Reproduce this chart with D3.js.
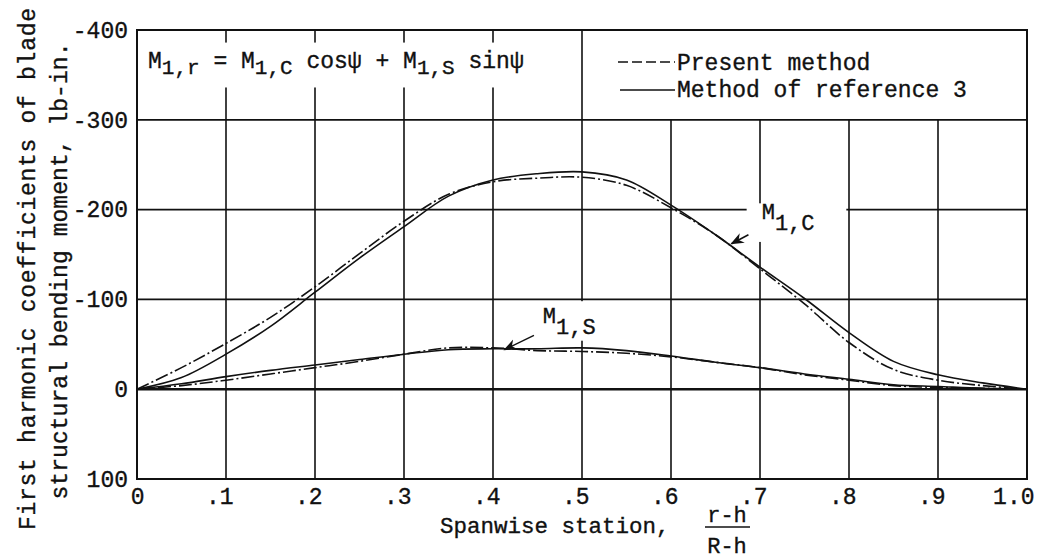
<!DOCTYPE html>
<html>
<head>
<meta charset="utf-8">
<script src="https://cdn.jsdelivr.net/npm/d3@7"></script>
<style>
  html, body { margin: 0; padding: 0; background: #fff; }
  svg { display: block; }
  text { font-family: "Liberation Mono", "DejaVu Sans Mono", monospace; fill: #111; stroke: #111; stroke-width: 0.35px; }
</style>
</head>
<body>
<svg id="chart" width="1059" height="560"></svg>
<script>
// ---------------- data ----------------
const stations = [0, .05, .1, .15, .2, .25, .3, .35, .4, .45, .5, .55, .6, .65, .7, .75, .8, .85, .9, .95, 1.0];
// M1,C  (cosine coefficient), lb-in.
const mcReference = [0, -13, -39, -70, -108, -146, -181, -215, -233, -240, -242, -233, -205, -172, -136, -101, -63, -31, -16, -7, 0];
const mcPresent   = [0, -24, -51, -80, -114, -151, -187, -217, -231, -235, -236, -227, -202, -172, -134, -95, -52, -22, -10, -4, 0];
// M1,S  (sine coefficient), lb-in.
const msReference = [0, -6, -14, -21, -27, -33, -39, -44, -45, -45, -46, -43, -37, -30, -24, -17, -11, -5, -3, -1, 0];
const msPresent   = [0, -4, -10, -17, -24, -31, -39, -46, -46, -43, -42, -40, -36, -30, -24, -16, -10, -4, -2, -1, 0];

const yTicks = [-400, -300, -200, -100, 0, 100];
const xTicks = [0, .1, .2, .3, .4, .5, .6, .7, .8, .9, 1.0];
const xTickLabels = ["0", ".1", ".2", ".3", ".4", ".5", ".6", ".7", ".8", ".9", "1.0"];
const legendLabels = ["Present method", "Method of reference 3"];
const yTitleLines = ["First harmonic coefficients of blade", "structural bending moment, lb-in."];
// annotation anchors in data units
const mcArrow = {x1: 0.687, y1: -172, x2: 0.668, y2: -162, lx: 0.702, ly: -189};
const msArrow = {x1: 0.446, y1: -60, x2: 0.413, y2: -44, lx: 0.456, ly: -74};

// ---------------- layout ----------------
const svg = d3.select("#chart");
const M = {left: 137, top: 30, right: 32, bottom: 81};
const W = 1059 - M.left - M.right;
const H = 560 - M.top - M.bottom;

const x = d3.scaleLinear().domain([0, 1]).range([M.left, M.left + W]);
const y = d3.scaleLinear().domain([-400, 100]).range([M.top, M.top + H]);

const ink = "#111";
const g = svg.append("g");

// grid: horizontal
g.selectAll("line.hgrid").data(yTicks).join("line")
  .attr("x1", x(0)).attr("x2", x(1))
  .attr("y1", d => y(d)).attr("y2", d => y(d))
  .attr("stroke", ink).attr("stroke-width", d => d === 0 ? 2.4 : 1.7);

// grid: vertical (legend box region above -300 has no lines right of .5)
g.selectAll("line.vgrid").data(xTicks).join("line")
  .attr("x1", d => x(d)).attr("x2", d => x(d))
  .attr("y1", d => (d > 0.5 && d < 1) ? y(-300) : y(-400))
  .attr("y2", y(100))
  .attr("stroke", ink).attr("stroke-width", d => (d === 0 || d === 1) ? 2 : 1.6);

// white gaps behind formula and labels
g.append("rect").attr("x", x(0) + 3).attr("y", y(-386)).attr("width", x(0.5) - x(0) - 6)
  .attr("height", y(-336) - y(-386)).attr("fill", "#fff");
g.append("rect").attr("x", x(0.685)).attr("y", y(-207)).attr("width", x(0.797) - x(0.685))
  .attr("height", y(-164) - y(-207)).attr("fill", "#fff");
g.append("rect").attr("x", x(0.455)).attr("y", y(-98)).attr("width", x(0.53) - x(0.455))
  .attr("height", y(-54) - y(-98)).attr("fill", "#fff");

// outer frame
g.append("rect").attr("x", x(0)).attr("y", y(-400)).attr("width", W).attr("height", H)
  .attr("fill", "none").attr("stroke", ink).attr("stroke-width", 2);

// ---------------- curves ----------------
const line = d3.line().x(d => x(d[0])).y(d => y(d[1])).curve(d3.curveCatmullRom.alpha(0.5));
const dashPattern = "13,3,2,3";
const series = [
  {v: mcReference, dash: null},
  {v: mcPresent, dash: dashPattern},
  {v: msReference, dash: null},
  {v: msPresent, dash: dashPattern}
];
g.selectAll("path.curve").data(series).join("path")
  .attr("d", s => line(stations.map((st, i) => [st, s.v[i]])))
  .attr("fill", "none").attr("stroke", ink).attr("stroke-width", 1.6)
  .attr("stroke-dasharray", s => s.dash);

// ---------------- axes labels ----------------
const yAxis = d3.axisLeft(y).tickValues(yTicks).tickSize(0).tickPadding(9)
  .tickFormat(d => String(d));
const ya = svg.append("g").attr("transform", `translate(${M.left},0)`).call(yAxis);
ya.select(".domain").remove();
ya.selectAll("text").attr("font-size", 23).attr("fill", ink)
  .style("font-family", '"Liberation Mono", monospace');

const xAxis = d3.axisBottom(x).tickValues(xTicks).tickSize(0)
  .tickFormat((d, i) => xTickLabels[i]);
const xa = svg.append("g").attr("transform", `translate(0,${M.top + H})`).call(xAxis);
xa.select(".domain").remove();
xa.selectAll("text").attr("font-size", 23).attr("fill", ink)
  .attr("text-anchor", "end").attr("dx", 7).attr("y", 3).attr("dy", "0.95em")
  .style("font-family", '"Liberation Mono", monospace');

// x title with fraction
const xt = svg.append("g");
xt.append("text").attr("x", 440).attr("y", 533).attr("font-size", 22.5)
  .text("Spanwise station,");
xt.append("text").attr("x", 727).attr("y", 522).attr("font-size", 22)
  .attr("text-anchor", "middle").text("r-h");
xt.append("line").attr("x1", 705).attr("x2", 750).attr("y1", 527).attr("y2", 527)
  .attr("stroke", ink).attr("stroke-width", 1.3);
xt.append("text").attr("x", 727).attr("y", 553).attr("font-size", 22)
  .attr("text-anchor", "middle").text("R-h");

// y title (two rotated lines)
const yt = svg.append("g");
yt.selectAll("text").data(yTitleLines).join("text")
  .attr("transform", (d, i) => `translate(${i === 0 ? 35 : 67},${i === 0 ? 269 : 271}) rotate(-90)`)
  .attr("text-anchor", "middle").attr("font-size", 23)
  .attr("textLength", (d, i) => i === 0 ? 522 : 457).attr("lengthAdjust", "spacing")
  .text(d => d);

// formula
const f = svg.append("text").attr("x", 148).attr("y", 68).attr("font-size", 23);
const sub = (t) => f.append("tspan").attr("dy", 6).attr("font-size", 21).text(t);
const main = (t) => f.append("tspan").attr("dy", -6).attr("font-size", 23).text(t);
f.append("tspan").text("M");
sub("1,r"); main(" = M");
sub("1,C"); main(" cos\u03C8 + M");
sub("1,S"); main(" sin\u03C8");

// legend
const lg = svg.append("g");
lg.append("line").attr("x1", 618).attr("x2", 675).attr("y1", 62).attr("y2", 62)
  .attr("stroke", ink).attr("stroke-width", 1.5).attr("stroke-dasharray", "10,4");
lg.append("line").attr("x1", 620).attr("x2", 675).attr("y1", 90).attr("y2", 90)
  .attr("stroke", ink).attr("stroke-width", 1.5);
lg.selectAll("text").data(legendLabels).join("text")
  .attr("x", 677).attr("y", (d, i) => i === 0 ? 70 : 97).attr("font-size", 23)
  .text(d => d);

// annotations
svg.append("defs").append("marker").attr("id", "ah")
  .attr("viewBox", "0 0 10 10").attr("refX", 9).attr("refY", 5)
  .attr("markerWidth", 9).attr("markerHeight", 9).attr("orient", "auto")
  .append("path").attr("d", "M0,1 L10,5 L0,9 L3,5 Z").attr("fill", ink);

[[mcArrow, "C"], [msArrow, "S"]].forEach(([a, s]) => {
  svg.append("line").attr("x1", x(a.x1)).attr("y1", y(a.y1))
    .attr("x2", x(a.x2)).attr("y2", y(a.y2))
    .attr("stroke", ink).attr("stroke-width", 1.5).attr("marker-end", "url(#ah)");
  const t = svg.append("text").attr("x", x(a.lx)).attr("y", y(a.ly)).attr("font-size", 22);
  t.append("tspan").text("M");
  t.append("tspan").attr("dy", 11).attr("font-size", 22).text("1," + s);
});
</script>
</body>
</html>
